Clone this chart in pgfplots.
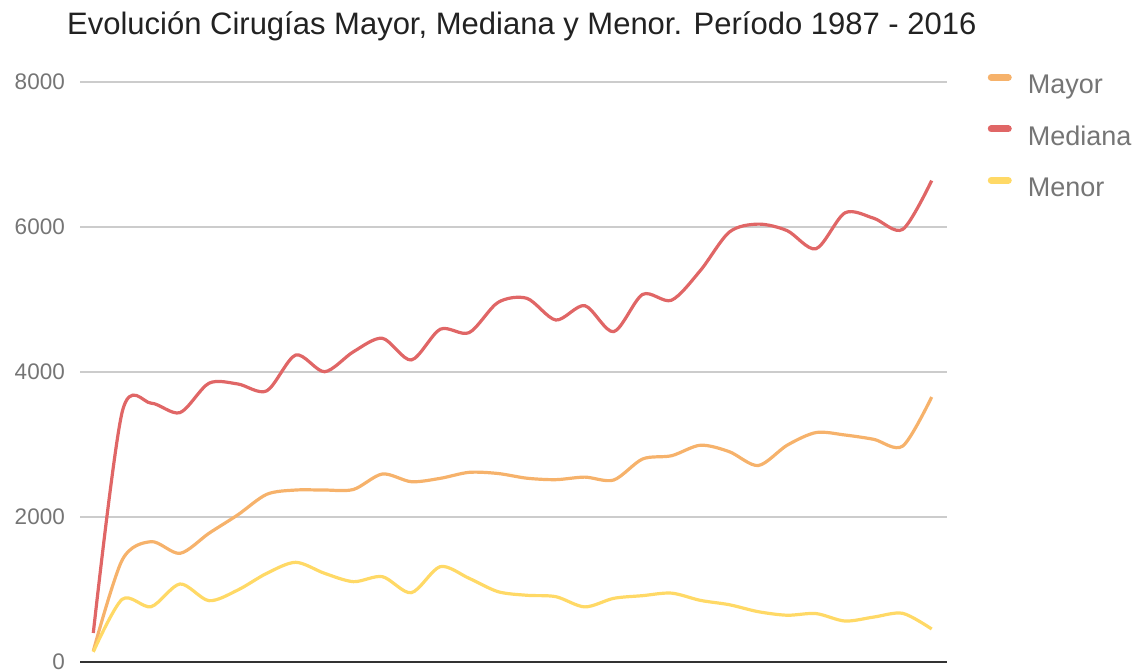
\documentclass[border=0pt]{standalone}
\usepackage{pgfplots}
\pgfplotsset{compat=1.18}
\usepackage{fontspec}
\setmainfont{Liberation Sans}
\definecolor{cMayor}{HTML}{F6B26B}
\definecolor{cMediana}{HTML}{E06666}
\definecolor{cMenor}{HTML}{FFD966}
\definecolor{cGrid}{HTML}{CCCCCC}
\definecolor{cAxis}{HTML}{333333}
\definecolor{cLabel}{HTML}{757575}
\definecolor{cTitle}{HTML}{222222}
\begin{document}
\begin{tikzpicture}
\useasboundingbox (0bp,0bp) rectangle (1142bp,671bp);
\node[anchor=base west, inner sep=0pt, text=cTitle, font=\fontsize{31bp}{37bp}\selectfont] at (67bp,636bp) {Evolución Cirugías Mayor, Mediana y Menor. Período 1987 - 2016};
\begin{axis}[
  at={(80bp,9bp)}, anchor=south west,
  scale only axis, width=867bp, height=580bp,
  xmin=1986.54, xmax=2016.53, ymin=0, ymax=8000,
  xtick=\empty,
  ytick={0,2000,4000,6000,8000},
  separate axis lines,
  axis x line*=bottom, axis y line*=left,
  x axis line style={draw=cAxis, line width=2bp, -},
  y axis line style={draw=none},
  major tick length=0pt,
  ymajorgrids, grid style={draw=cGrid, line width=1.2bp},
  yticklabel style={anchor=east, inner sep=0pt, xshift=-15bp, text=cLabel, font=\fontsize{22.5bp}{27bp}\selectfont},
  /pgf/number format/assume math mode=true,
  /pgf/number format/.cd, set thousands separator={}, /pgfplots/.cd,
  every axis plot/.append style={smooth, tension=0.5, line width=3.2bp, line join=round, no markers},
  legend cell align=left,
  legend style={at={(axis description cs:1.047,1.014)}, anchor=north west, draw=none, fill=none, inner sep=0pt, outer sep=0pt, row sep=24.5bp,
    nodes={inner sep=0pt, text=cLabel, font=\fontsize{27bp}{32bp}\selectfont, text height=20bp, text depth=7bp},
    /tikz/every odd column/.append style={column sep=16bp}},
  legend image code/.code={\draw[#1, line width=7bp, line cap=round] (3.5bp,10bp) -- (20.5bp,10bp);},
]
\addplot[cMayor] coordinates {
(1987,150) (1988,1407) (1989,1660) (1990,1499) (1991,1775) (1992,2030) (1993,2313) (1994,2372) (1995,2372) (1996,2380)
(1997,2593) (1998,2487) (1999,2533) (2000,2616) (2001,2600) (2002,2535) (2003,2515) (2004,2550) (2005,2510) (2006,2800)
(2007,2845) (2008,2990) (2009,2901) (2010,2710) (2011,2990) (2012,3165) (2013,3131) (2014,3071) (2015,2979) (2016,3655)};
\addlegendentry{Mayor}
\addplot[cMediana] coordinates {
(1987,400) (1988,3450) (1989,3570) (1990,3440) (1991,3845) (1992,3835) (1993,3740) (1994,4234) (1995,4004) (1996,4280)
(1997,4465) (1998,4166) (1999,4590) (2000,4543) (2001,4960) (2002,5016) (2003,4717) (2004,4915) (2005,4556) (2006,5070)
(2007,4990) (2008,5400) (2009,5930) (2010,6040) (2011,5950) (2012,5700) (2013,6195) (2014,6120) (2015,5968) (2016,6640)};
\addlegendentry{Mediana}
\addplot[cMenor] coordinates {
(1987,140) (1988,865) (1989,763) (1990,1076) (1991,846) (1992,993) (1993,1223) (1994,1375) (1995,1223) (1996,1108)
(1997,1177) (1998,956) (1999,1315) (2000,1154) (2001,970) (2002,920) (2003,901) (2004,760) (2005,878) (2006,915)
(2007,950) (2008,850) (2009,790) (2010,694) (2011,645) (2012,668) (2013,565) (2014,620) (2015,671) (2016,455)};
\addlegendentry{Menor}
\end{axis}
\end{tikzpicture}
\end{document}
